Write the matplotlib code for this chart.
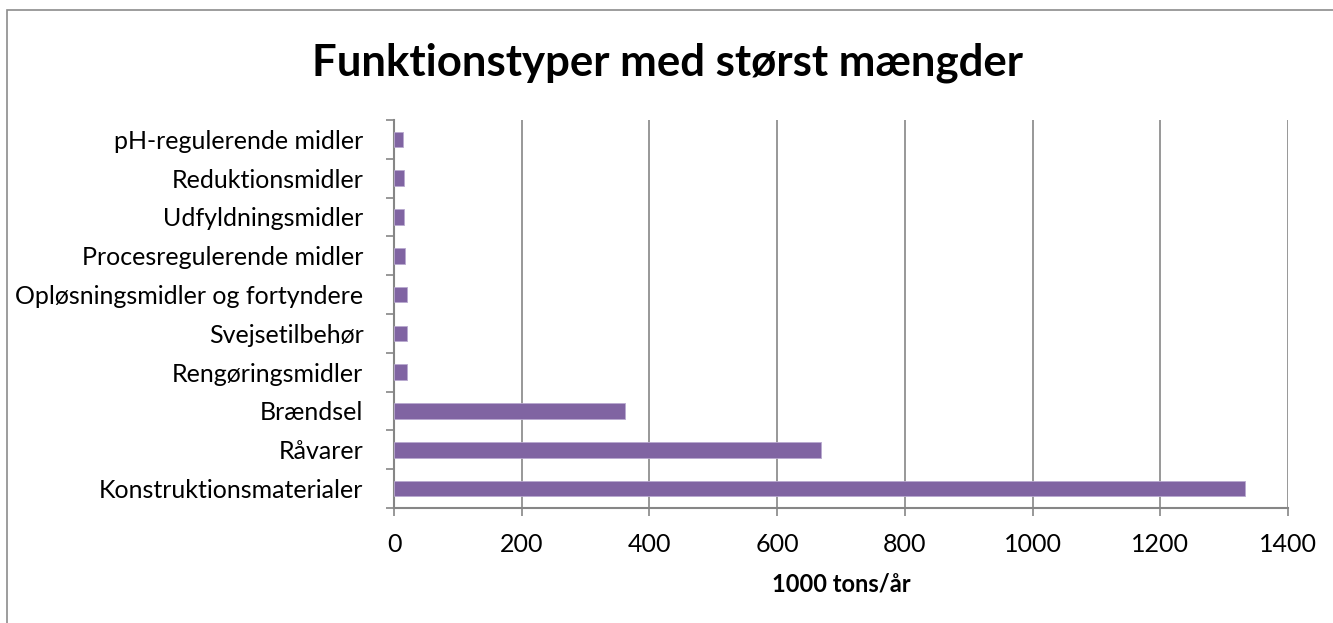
import numpy as np
import matplotlib.pyplot as plt
from matplotlib.patches import Rectangle

categories = ['Konstruktionsmaterialer', 'Råvarer', 'Brændsel', 'Rengøringsmidler',
              'Svejsetilbehør', 'Opløsningsmidler og fortyndere', 'Procesregulerende midler',
              'Udfyldningsmidler', 'Reduktionsmidler', 'pH-regulerende midler']
values = [1332, 669, 361, 21, 20, 20, 17, 15, 15, 14]
xticks = [0, 200, 400, 600, 800, 1000, 1200, 1400]

plt.rcParams['font.family'] = ['Lato', 'DejaVu Sans']

bar_color = '#8064A2'
grid_color = '#868686'

fig = plt.figure(figsize=(13.33, 6.23), dpi=100)
# outer chart frame (only top/left edges fall inside the image)
fig.patches.append(Rectangle((7 / 1333, -0.05), 1.2, 1.05 - 10 / 623, transform=fig.transFigure,
                             fill=False, ec='#8c8c8c', lw=1.2))
ax = fig.add_axes([394 / 1333, 1 - 508 / 623, (1288 - 394) / 1333, (508 - 120) / 623])

y = np.arange(len(categories))
ax.barh(y, values, height=0.4, color=bar_color, edgecolor='#b9a9cf', linewidth=0.6, zorder=3)

ax.set_xlim(0, 1400)
ax.set_ylim(-0.5, len(categories) - 0.5)
ax.set_xticks(xticks)
ax.set_xticklabels([str(v) for v in xticks], fontsize=18)
ax.set_yticks(y)
ax.set_yticklabels(categories, fontsize=18)
ax.set_yticks(np.arange(-0.5, len(categories)), minor=True)
ax.tick_params(axis='y', which='major', length=0, pad=22)
ax.tick_params(axis='y', which='minor', length=6, width=1.2, color=grid_color)
ax.tick_params(axis='x', length=6, width=1.2, color=grid_color, pad=12)

ax.grid(axis='x', color=grid_color, lw=1.2, zorder=0)
for s in ['top', 'right']:
    ax.spines[s].set_visible(False)
for s in ['left', 'bottom']:
    ax.spines[s].set_color(grid_color)
    ax.spines[s].set_linewidth(1.5)

ax.set_xlabel('1000 tons/år', fontsize=17, fontweight='bold', labelpad=12)
fig.text(668 / 1333, 1 - 63 / 623, 'Funktionstyper med størst mængder',
         ha='center', va='center', fontsize=31.5, fontweight='bold')

fig.savefig('out.png', dpi=100)
